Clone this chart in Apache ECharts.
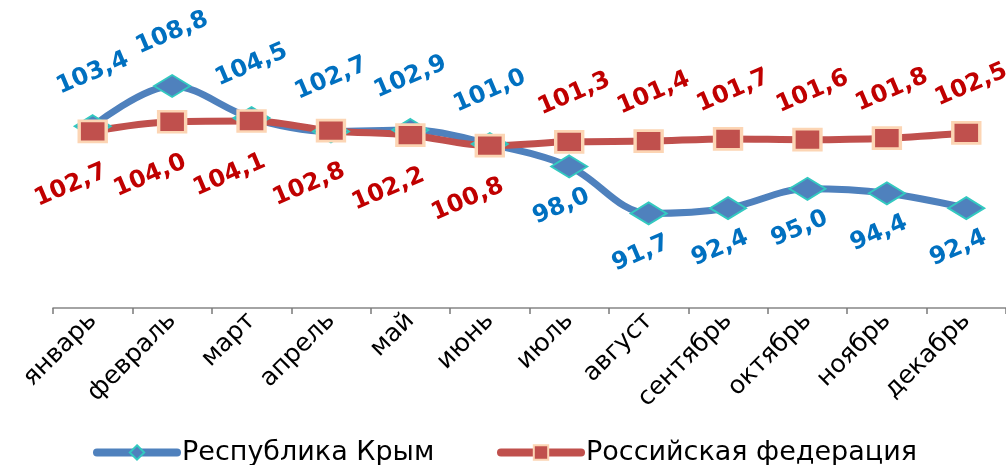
<!DOCTYPE html>
<html><head><meta charset="utf-8">
<script src="https://cdn.jsdelivr.net/npm/echarts@6/dist/echarts.min.js"></script>
<style>html,body{margin:0;padding:0;background:#fff}#c{width:1006px;height:465px}</style>
</head><body><div id="c"></div>
<script>
const categories = ['январь','февраль','март','апрель','май','июнь','июль','август','сентябрь','октябрь','ноябрь','декабрь'];
const seriesNames = ['Республика Крым','Российская федерация'];
const crimea = [103.4,108.8,104.5,102.7,102.9,101.0,98.0,91.7,92.4,95.0,94.4,92.4];
const russia = [102.7,104.0,104.1,102.8,102.2,100.8,101.3,101.4,101.7,101.6,101.8,102.5];

const ROT = 23;
function off(dx, dy){
  const t = ROT*Math.PI/180, c = Math.cos(t), s = Math.sin(t);
  return [dx*c - dy*s, dx*s + dy*c];
}
const fmt = p => p.value.toFixed(1).replace('.', ',');
const FONT = 'DejaVu Sans';

function labelCfg(color){
  return {show:true, position:'inside', rotate:ROT, color:color, fontSize:24, fontWeight:'bold',
          fontFamily:FONT, align:'center', verticalAlign:'middle', formatter:fmt};
}

const chart = echarts.init(document.getElementById('c'));
chart.setOption({
  animation:false,
  grid:{left:53, right:-8, top:10, bottom:157},
  xAxis:{type:'category', data:categories, boundaryGap:true,
    axisLine:{show:true, lineStyle:{color:'#868686', width:1.5}},
    axisTick:{show:true, interval:0, inside:false, alignWithLabel:false, length:6, lineStyle:{color:'#7a7a7a', width:1.5}},
    axisLabel:{interval:0, rotate:45, fontSize:25, fontFamily:FONT, color:'#000', margin:9}},
  yAxis:{type:'value', min:79, max:119, show:false},
  legend:[
    {data:[seriesNames[0]], left:88, top:434, itemWidth:80, itemHeight:18, itemGap:0,
     textStyle:{fontSize:27, fontFamily:FONT, color:'#000'}, lineStyle:{width:8, cap:'round'}},
    {data:[seriesNames[1]], left:492, top:434, itemWidth:80, itemHeight:18, itemGap:0,
     textStyle:{fontSize:27, fontFamily:FONT, color:'#000'}, lineStyle:{width:8, cap:'round'}}
  ],
  series:[
    {name:seriesNames[0], type:'line', smooth:0.35, symbol:'diamond', symbolSize:[36,22],
     lineStyle:{color:'#4F81BD', width:7},
     itemStyle:{color:'#4F81BD', borderColor:'#33C9C0', borderWidth:2},
     label:labelCfg('#0070C0'),
     data:crimea.map((v,i)=>({value:v, label:{offset: i<6 ? off(0,-53) : off(-8,40)}}))},
    {name:seriesNames[1], type:'line', smooth:0.35, symbol:'rect', symbolSize:[27,21],
     lineStyle:{color:'#C0504D', width:7},
     itemStyle:{color:'#C0504D', borderColor:'#FCD5B4', borderWidth:3},
     label:labelCfg('#C00000'),
     data:russia.map((v,i)=>({value:v, label:{offset: i<6 ? off(-22,54) : off(5,-48)}}))}
  ]
});
</script></body></html>
